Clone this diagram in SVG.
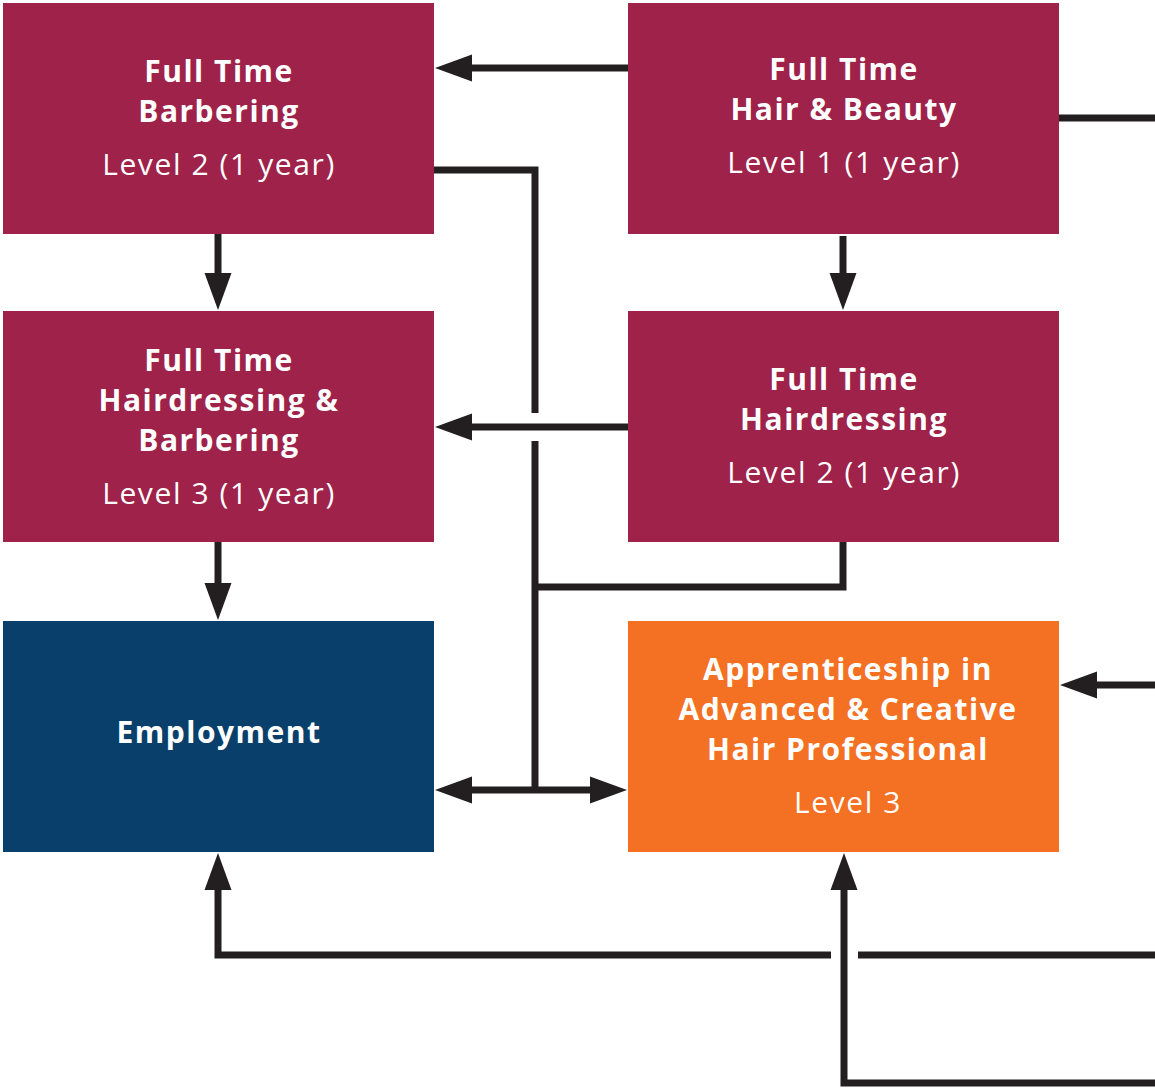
<svg xmlns="http://www.w3.org/2000/svg" width="1155" height="1088" viewBox="0 0 1155 1088">
<style>
.box{stroke:none}
.m{fill:#9E2249}
.e{fill:#08406B}
.o{fill:#F47022}
text{fill:#fff;font-family:"Open Sans","Noto Sans","DejaVu Sans",sans-serif;text-anchor:middle}
.t{font-weight:700;font-size:30px;letter-spacing:1.5px}
.l{font-weight:400;font-size:30px;letter-spacing:1.6px}
.c{fill:none;stroke:#231F20;stroke-width:7}
</style>
<defs>
<marker id="ah" viewBox="0 -14 38 28" markerWidth="38" markerHeight="28" refX="1" refY="0" markerUnits="userSpaceOnUse" orient="auto-start-reverse">
<path d="M0,-13.5 L37,0 L0,13.5 z" fill="#231F20"/>
</marker>
</defs>
<rect width="1155" height="1088" fill="#fff"/>
<g id="connectors">
<path class="c" d="M628,68 H471" marker-end="url(#ah)"/>
<path class="c" d="M434,170 H535 V413"/>
<path class="c" d="M535,441 V790"/>
<path class="c" d="M628,427 H471" marker-end="url(#ah)"/>
<path class="c" d="M843,542 V587 H535"/>
<path class="c" d="M471,790 H591" marker-start="url(#ah)" marker-end="url(#ah)"/>
<path class="c" d="M218,234 V274" marker-end="url(#ah)"/>
<path class="c" d="M218,542 V584" marker-end="url(#ah)"/>
<path class="c" d="M843,236 V274" marker-end="url(#ah)"/>
<path class="c" d="M1057,118 H1155"/>
<path class="c" d="M1155,685 H1096" marker-end="url(#ah)"/>
<path class="c" d="M1155,955 H858"/>
<path class="c" d="M831,955 H218 V889" marker-end="url(#ah)"/>
<path class="c" d="M1155,1083 H844 V889" marker-end="url(#ah)"/>
</g>
<g id="n1">
<rect class="box m" x="3" y="3" width="431" height="231"/>
<text class="t" x="219" y="82">Full Time</text>
<text class="t" x="219" y="122">Barbering</text>
<text class="l" x="219" y="175">Level 2 (1 year)</text>
</g>
<g id="n2">
<rect class="box m" x="628" y="3" width="431" height="231"/>
<text class="t" x="844" y="80">Full Time</text>
<text class="t" x="844" y="120">Hair &amp; Beauty</text>
<text class="l" x="844" y="173">Level 1 (1 year)</text>
</g>
<g id="n3">
<rect class="box m" x="3" y="311" width="431" height="231"/>
<text class="t" x="219" y="371">Full Time</text>
<text class="t" x="219" y="411">Hairdressing &amp;</text>
<text class="t" x="219" y="451">Barbering</text>
<text class="l" x="219" y="504">Level 3 (1 year)</text>
</g>
<g id="n4">
<rect class="box m" x="628" y="311" width="431" height="231"/>
<text class="t" x="844" y="390">Full Time</text>
<text class="t" x="844" y="430">Hairdressing</text>
<text class="l" x="844" y="483">Level 2 (1 year)</text>
</g>
<g id="n5">
<rect class="box e" x="3" y="621" width="431" height="231"/>
<text class="t" x="219" y="743">Employment</text>
</g>
<g id="n6">
<rect class="box o" x="628" y="621" width="431" height="231"/>
<text class="t" x="848" y="680">Apprenticeship in</text>
<text class="t" x="848" y="720">Advanced &amp; Creative</text>
<text class="t" x="848" y="760">Hair Professional</text>
<text class="l" x="848" y="813">Level 3</text>
</g>
</svg>
